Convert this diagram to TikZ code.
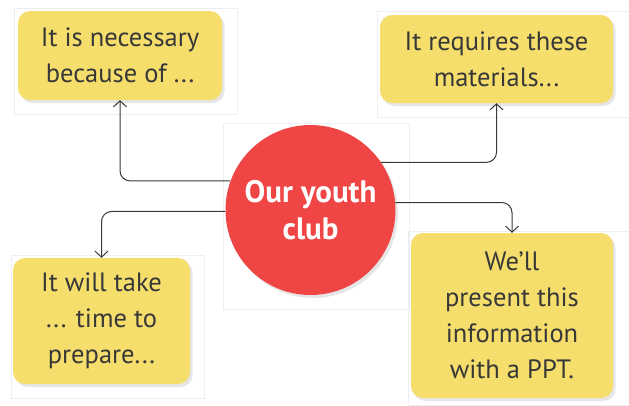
\documentclass[tikz,border=0pt]{standalone}
\usepackage{fontspec}
\setmainfont{PT Sans}
\usetikzlibrary{shadows,arrows.meta}
\definecolor{boxyellow}{RGB}{245,222,108}
\definecolor{clubred}{RGB}{239,70,69}
\definecolor{inkgray}{RGB}{56,56,56}
\definecolor{framegray}{RGB}{238,238,245}

\begin{document}
\begin{tikzpicture}[x=1pt,y=-1pt,
  idea/.style={fill=boxyellow, rounded corners=12pt, align=center, text=inkgray,
    inner sep=0pt, font=\fontsize{26.5}{36}\selectfont,
    drop shadow={shadow xshift=2.5pt, shadow yshift=-3pt, opacity=.2}},
  link/.style={draw=inkgray, line width=1pt, rounded corners=10pt,
    -{Straight Barb[length=6pt,width=13pt]}},
  frame/.style={draw=framegray, line width=.6pt}]
\useasboundingbox (0,0) rectangle (629,405);

% faint frames behind the pieces
\draw[frame] (14,8) rectangle (237,114);
\draw[frame] (377,11) rectangle (629,117);
\draw[frame] (11,255) rectangle (204,398);
\draw[frame] (223,123) rectangle (409,309);
\draw[frame] (408,231) rectangle (629,405);

\node[idea, minimum width=204pt, minimum height=89pt] (nec) at (120,55.5)
  {It is necessary\\because of ...};
\node[idea, minimum width=233pt, minimum height=88pt] (mat) at (496.5,59)
  {It requires these\\materials...};
\node[idea, minimum width=177pt, minimum height=126pt] (take) at (101.5,321)
  {It will take\\... time to\\prepare...};
\node[idea, minimum width=202pt, minimum height=165pt] (ppt) at (512,315.5)
  {We’ll\\present this\\information\\with a PPT.};

\node[circle, fill=clubred, minimum size=170pt, inner sep=0pt, text=white,
  align=center, font=\bfseries\fontsize{31}{37}\selectfont,
  drop shadow={shadow xshift=2.5pt, shadow yshift=-3pt, opacity=.2}]
  (club) at (310.5,210) {Our youth\\club};

\draw[link] (club.160) -| (nec.south);
\draw[link] (club.181) -| (take.north);
\draw[link] (club.34) -| (mat.south);
\draw[link] (club.5) -| (ppt.north);
\end{tikzpicture}
\end{document}
